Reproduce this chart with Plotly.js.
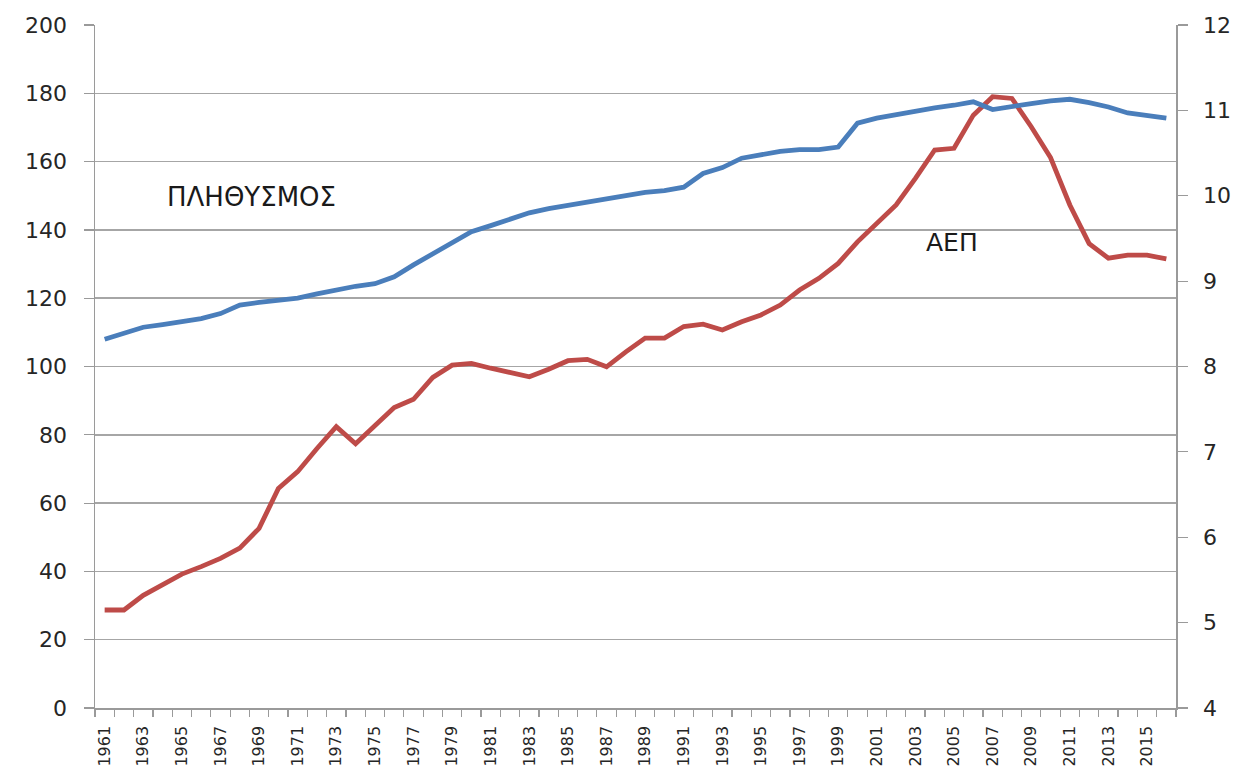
<!DOCTYPE html>
<html>
<head>
<meta charset="utf-8">
<script src="https://cdn.plot.ly/plotly-3.0.1.min.js"></script>
<style>html,body{margin:0;padding:0;background:#fff;}#chart{width:1247px;height:776px;}</style>
</head>
<body>
<div id="chart"></div>
<script>
const years = [];
for (let y = 1961; y <= 2016; y++) years.push(y);

// ΑΕΠ (left axis)
const gdp = [28.7,28.7,33.0,36.0,39.2,41.4,43.8,46.8,52.6,64.3,
             69.2,76.0,82.4,77.4,82.9,88.0,90.4,96.8,100.4,100.9,
             99.5,98.2,97.0,99.2,101.7,102.1,99.9,104.3,108.3,108.3,
             111.7,112.4,110.7,113.1,115.1,118.0,122.4,125.8,130.2,136.5,
             141.9,147.3,155.1,163.4,163.9,173.6,179.0,178.5,170.2,161.2,
             147.3,136.0,131.7,132.6,132.6,131.5];

// ΠΛΗΘΥΣΜΟΣ (right axis, millions)
const population = [8.32,8.39,8.46,8.49,8.52,8.56,8.62,8.72,8.75,8.78,
                    8.80,8.85,8.90,8.94,8.97,9.05,9.19,9.32,9.46,9.58,
                    9.65,9.73,9.80,9.85,9.89,9.93,9.97,10.00,10.04,10.06,
                    10.10,10.26,10.33,10.44,10.48,10.52,10.54,10.54,10.57,10.85,
                    10.91,10.95,11.00,11.03,11.06,11.10,11.01,11.05,11.08,11.11,
                    11.13,11.09,11.04,10.97,10.94,10.91];

const labelYears = years.filter(y => (y - 1961) % 2 === 0);
const leftTicks = [0,20,40,60,80,100,120,140,160,180,200];
const rightTicks = [4,5,6,7,8,9,10,11,12];

const font = "'DejaVu Sans', 'Open Sans', sans-serif";
const tickColor = '#262626';
const axisColor = '#9a9a9a';

const traces = [
  {x: years, y: population, type: 'scatter', mode: 'lines', name: 'ΠΛΗΘΥΣΜΟΣ',
   yaxis: 'y2', line: {color: '#4A7EBB', width: 4.8}},
  {x: years, y: gdp, type: 'scatter', mode: 'lines', name: 'ΑΕΠ',
   yaxis: 'y', line: {color: '#BE4B48', width: 4.8}}
];

const layout = {
  width: 1247, height: 776,
  margin: {l: 95, r: 71, t: 25, b: 68},
  paper_bgcolor: '#fff', plot_bgcolor: '#fff',
  showlegend: false,
  font: {family: font, color: tickColor},
  xaxis: {
    range: [1960.5, 2016.5],
    tickvals: labelYears, ticktext: labelYears.map(String),
    tickangle: -90, ticklen: 0, ticks: 'outside', ticklabelstandoff: 10,
    tickfont: {size: 16, color: tickColor, family: font},
    showgrid: false, zeroline: false,
    showline: true, linecolor: axisColor, linewidth: 1.5,
    minor: {tick0: 1960.5, dtick: 1, ticks: 'outside', ticklen: 7, tickcolor: axisColor, tickwidth: 1.2, showgrid: false}
  },
  yaxis: {
    range: [0, 200], tickvals: leftTicks,
    ticks: 'outside', ticklen: 10, tickcolor: axisColor, tickwidth: 1.2,
    ticklabelstandoff: 12,
    tickfont: {size: 22, color: tickColor, family: font},
    showgrid: true, gridcolor: '#a6a6a6', gridwidth: 1.5,
    zeroline: false, showline: true, linecolor: axisColor, linewidth: 1.5
  },
  yaxis2: {
    range: [4, 12], tickvals: rightTicks, overlaying: 'y', side: 'right',
    ticks: 'outside', ticklen: 10, tickcolor: axisColor, tickwidth: 1.2,
    ticklabelstandoff: 11,
    tickfont: {size: 22, color: tickColor, family: font},
    showgrid: false, zeroline: false, showline: true, linecolor: axisColor, linewidth: 1.5
  },
  annotations: [
    {text: 'ΠΛΗΘΥΣΜΟΣ', x: 1968.6, y: 149.6, xref: 'x', yref: 'y', showarrow: false,
     font: {size: 26, color: '#1a1a1a', family: font}},
    {text: 'ΑΕΠ', x: 2004.9, y: 136.2, xref: 'x', yref: 'y', showarrow: false,
     font: {size: 25, color: '#1a1a1a', family: font}}
  ]
};

Plotly.newPlot('chart', traces, layout, {displayModeBar: false, staticPlot: true});
</script>
</body>
</html>
